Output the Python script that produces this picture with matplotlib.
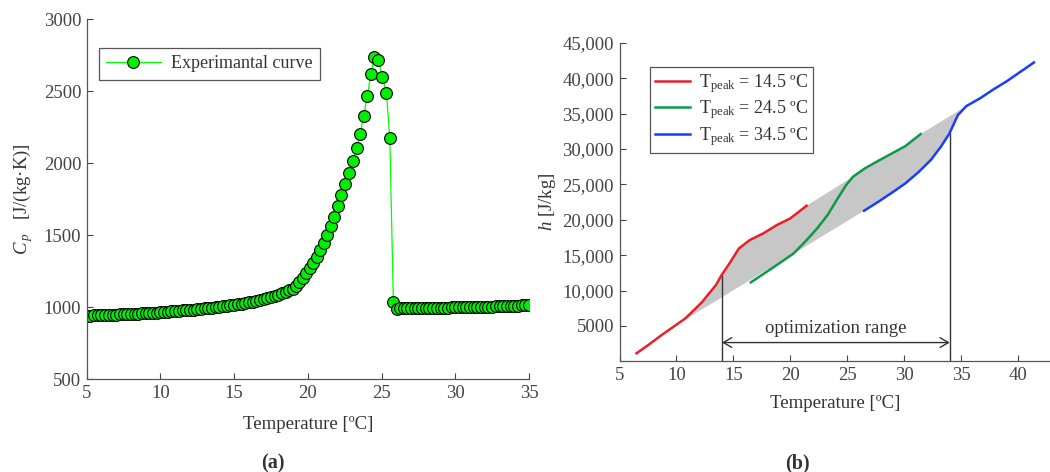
import matplotlib
matplotlib.use("Agg")
import matplotlib.pyplot as plt

plt.rcParams['font.family'] = ['Liberation Serif', 'DejaVu Serif']
plt.rcParams['mathtext.fontset'] = 'custom'
plt.rcParams['mathtext.rm'] = 'Liberation Serif'
plt.rcParams['mathtext.it'] = 'Liberation Serif:italic'
plt.rcParams['text.color'] = '#333333'
plt.rcParams['axes.labelcolor'] = '#333333'
plt.rcParams['xtick.color'] = '#444444'
plt.rcParams['ytick.color'] = '#444444'

# ---- (a) experimental Cp curve ----
temp_a = [5.0, 5.25, 5.5, 5.75, 6.0, 6.25, 6.5, 6.75, 7.0, 7.25, 7.5, 7.75,
          8.0, 8.25, 8.5, 8.75, 9.0, 9.25, 9.5, 9.75, 10.0, 10.25, 10.5, 10.75,
          11.0, 11.25, 11.5, 11.75, 12.0, 12.25, 12.5, 12.75, 13.0, 13.25, 13.5,
          13.75, 14.0, 14.25, 14.5, 14.75, 15.0, 15.25, 15.5, 15.75, 16.0, 16.25,
          16.5, 16.75, 17.0, 17.25, 17.5, 17.75, 18.0, 18.25, 18.5, 18.75, 19.0,
          19.2, 19.43, 19.66, 19.9, 20.13, 20.36, 20.6, 20.83, 21.07, 21.3, 21.54,
          21.79, 22.05, 22.28, 22.5, 22.8, 23.03, 23.31, 23.55, 23.78, 24.04,
          24.27, 24.5, 24.79, 25.05, 25.33, 25.56, 25.8, 26.03,
          26.25, 26.5, 26.75, 27.0, 27.25, 27.5, 27.75, 28.0, 28.25, 28.5, 28.75,
          29.0, 29.25, 29.5, 29.75, 30.0, 30.25, 30.5, 30.75, 31.0, 31.25, 31.5,
          31.75, 32.0, 32.25, 32.5, 32.75, 33.0, 33.25, 33.5, 33.75, 34.0, 34.25,
          34.5, 34.75, 35.0]
cp_a = [944, 944, 945, 946, 947, 948, 949, 950, 951, 952, 953, 954,
        955, 956, 958, 959, 961, 962, 964, 965, 967, 969, 971, 973,
        975, 977, 979, 981, 983, 985, 988, 990, 993, 996, 999,
        1002, 1005, 1008, 1012, 1015, 1019, 1023, 1027, 1031, 1036, 1041,
        1046, 1052, 1058, 1065, 1072, 1080, 1089, 1098, 1108, 1118, 1130,
        1147, 1175, 1205, 1240, 1274, 1309, 1350, 1399, 1445, 1505, 1563,
        1630, 1701, 1782, 1856, 1930, 2018, 2108, 2205, 2330, 2469,
        2621, 2737, 2718, 2600, 2487, 2177, 1038, 992,
        993, 993, 994, 994, 995, 995, 996, 996, 997, 997, 998,
        998, 999, 999, 1000, 1000, 1001, 1001, 1002, 1002, 1003, 1004,
        1004, 1005, 1006, 1006, 1007, 1008, 1009, 1010, 1011, 1012, 1013,
        1014, 1015, 1016]

# ---- (b) enthalpy curves ----
t_red = [6.49, 7.53, 8.71, 9.75, 10.79, 11.54, 12.28, 12.87, 13.47, 13.97,
         14.66, 15.49, 16.44, 17.63, 18.81, 20.0, 21.43]
h_red = [1129, 2306, 3718, 4894, 6071, 7247, 8424, 9600, 10776, 12188,
         13835, 15953, 17129, 18071, 19247, 20188, 21976]
t_green = [16.53, 17.63, 18.81, 20.3, 21.49, 22.38, 23.27, 24.16, 24.9, 25.5,
           26.54, 27.73, 28.92, 30.1, 31.44]
h_green = [11153, 12329, 13600, 15247, 17224, 18824, 20659, 23012, 24894, 26071,
           27247, 28329, 29365, 30400, 32094]
t_blue = [26.48, 27.73, 28.92, 30.1, 31.29, 32.33, 33.22, 33.97, 34.71, 35.45,
          36.64, 37.83, 39.02, 41.39]
h_blue = [21271, 22541, 23812, 25129, 26776, 28424, 30306, 32188, 34776, 36047,
          37129, 38400, 39576, 42212]
labels_b = [r'T$_{\rm peak}$ = 14.5 ºC', r'T$_{\rm peak}$ = 24.5 ºC',
            r'T$_{\rm peak}$ = 34.5 ºC']
colors_b = ['#e8202a', '#0b9a48', '#1a3cff']
opt_range = [14, 34]
opt_h = [12188, 32300]
yticks_b = [5000, 10000, 15000, 20000, 25000, 30000, 35000, 40000, 45000]
yticklabels_b = ['5000', '10,000', '15,000', '20,000', '25,000', '30,000',
                 '35,000', '40,000', '45,000']

fs = 13.5
fig = plt.figure(figsize=(10.5, 4.72), dpi=100)

ax1 = fig.add_axes([0.0826, 0.196, 0.4212, 0.763])
ax1.plot(temp_a, cp_a, color='#00ff00', lw=0.9, marker='o', ms=8.5,
         mfc='#00ee00', mec='black', mew=0.8, label='Experimantal curve')
ax1.set_xlim(5, 35)
ax1.set_ylim(500, 3000)
ax1.set_xticks([5, 10, 15, 20, 25, 30, 35])
ax1.set_yticks([500, 1000, 1500, 2000, 2500, 3000])
ax1.set_xlabel('Temperature [ºC]', fontsize=fs, labelpad=10)
ax1.set_ylabel(r'$C_{\,p}$   [J/(kg·K)]', fontsize=fs, labelpad=6)
leg1 = ax1.legend(loc='upper left', bbox_to_anchor=(0.028, 0.92), borderaxespad=0,
                  fontsize=13, fancybox=False, edgecolor='#555555', framealpha=1,
                  handlelength=3.0, handletextpad=0.6, borderpad=0.4)
leg1.get_frame().set_linewidth(0.9)

ax2 = fig.add_axes([0.590, 0.2345, 0.41, 0.675])
# shaded region between the curves
poly_x = ([t for t in t_red if t >= 9.75] + t_green[9:] + t_blue[9::-1])
poly_y = ([h for t, h in zip(t_red, h_red) if t >= 9.75] + h_green[9:] +
          h_blue[9::-1])
ax2.fill(poly_x, poly_y, color='#c6c7c6', lw=0, zorder=1)
ax2.plot(t_red, h_red, color=colors_b[0], lw=1.8, label=labels_b[0], zorder=3)
ax2.plot(t_green, h_green, color=colors_b[1], lw=1.8, label=labels_b[1], zorder=3)
ax2.plot(t_blue, h_blue, color=colors_b[2], lw=1.8, label=labels_b[2], zorder=3)
ax2.vlines(opt_range, 0, opt_h, colors='#333333', lw=1.0, zorder=2)
ax2.annotate('', xy=(opt_range[0], 2650), xytext=(opt_range[1], 2650),
             arrowprops=dict(arrowstyle='<->,head_length=0.6,head_width=0.35',
                             color='#333333', lw=1.0, shrinkA=0, shrinkB=0))
ax2.text(24, 3500, 'optimization range', ha='center', va='bottom', fontsize=fs)
ax2.set_xlim(5, 42.8)
ax2.set_ylim(0, 45000)
ax2.set_xticks([5, 10, 15, 20, 25, 30, 35, 40])
ax2.set_yticks(yticks_b)
ax2.set_yticklabels(yticklabels_b)
ax2.set_xlabel('Temperature [ºC]', fontsize=fs, labelpad=8)
ax2.set_ylabel(r'$h$ [J/kg]', fontsize=fs, labelpad=3)
leg2 = ax2.legend(loc='upper left', bbox_to_anchor=(0.071, 0.925), borderaxespad=0,
                  fontsize=13, fancybox=False, edgecolor='#555555', framealpha=1,
                  handlelength=1.9, handletextpad=0.5, borderpad=0.3,
                  labelspacing=0.2)
leg2.get_frame().set_linewidth(0.9)

for ax in (ax1, ax2):
    ax.spines['top'].set_visible(False)
    ax.spines['right'].set_visible(False)
    for s in ('left', 'bottom'):
        ax.spines[s].set_color('#555555')
        ax.spines[s].set_linewidth(0.9)
    ax.tick_params(direction='in', length=4, width=0.8, labelsize=fs, pad=4)

fig.text(0.26, 0.019, '(a)', ha='center', va='center', fontsize=14.5, fontweight='bold')
fig.text(0.759, 0.019, '(b)', ha='center', va='center', fontsize=14.5, fontweight='bold')

fig.savefig('out.png', dpi=100)
